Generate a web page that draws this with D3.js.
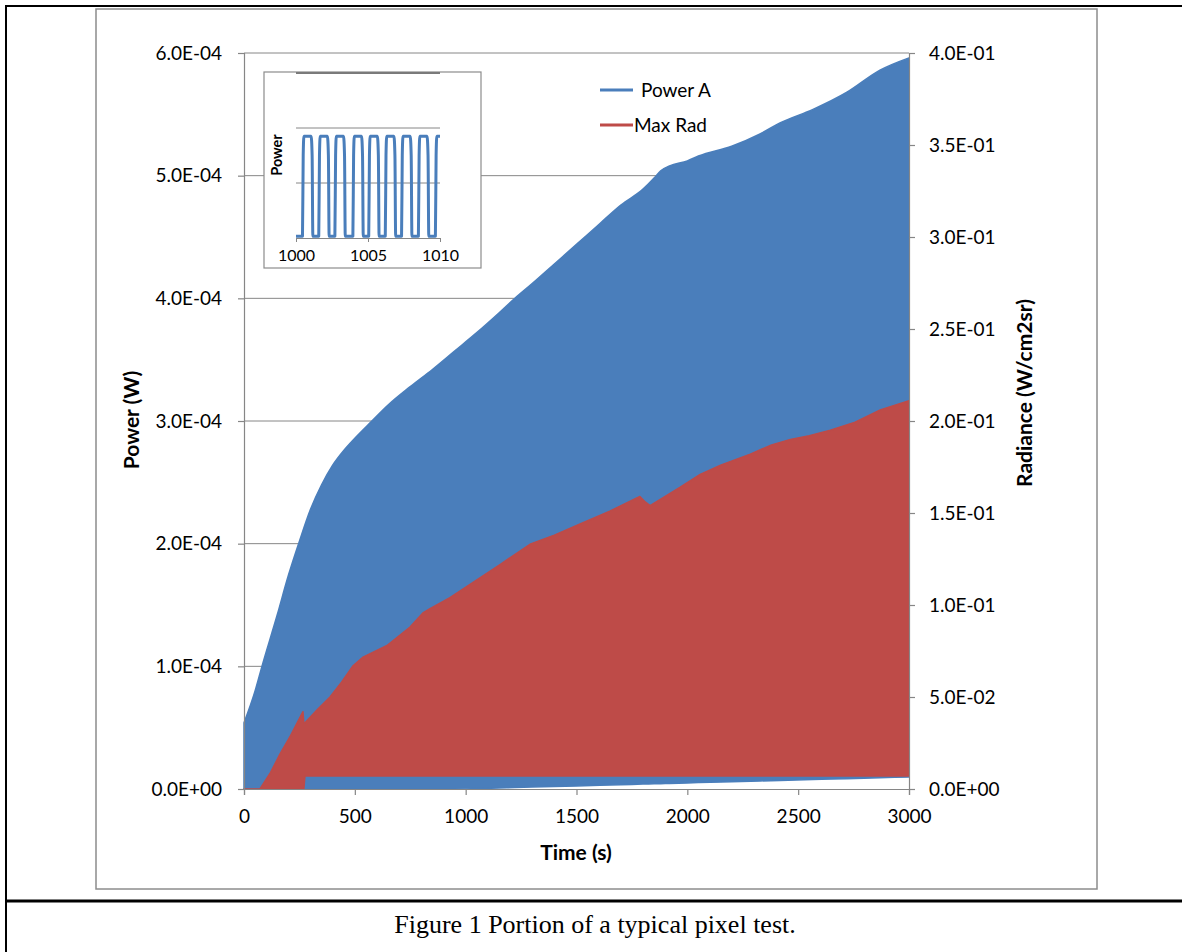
<!DOCTYPE html>
<html>
<head>
<meta charset="utf-8">
<script src="https://cdn.jsdelivr.net/npm/d3@7"></script>
<style>
  html, body { margin: 0; padding: 0; background: #fff; }
  svg { display: block; }
</style>
</head>
<body>
<svg id="fig" width="1182" height="952"></svg>
<script>
// Power A envelope (top / bottom of the dense oscillation), W
const powerTime = [0, 50, 81, 150, 200, 250, 300, 350, 400, 450, 500, 577, 650, 750, 850, 950, 1050, 1150, 1222, 1300, 1400, 1500, 1606, 1700, 1800, 1850, 1880, 1920, 2000, 2050, 2200, 2328, 2418, 2567, 2720, 2869, 3000];
const powerTop = [0.54e-4, 0.80e-4, 1.00e-4, 1.42e-4, 1.74e-4, 2.02e-4, 2.28e-4, 2.48e-4, 2.64e-4, 2.76e-4, 2.86e-4, 3.00e-4, 3.13e-4, 3.28e-4, 3.42e-4, 3.57e-4, 3.72e-4, 3.88e-4, 4.00e-4, 4.12e-4, 4.28e-4, 4.44e-4, 4.61e-4, 4.76e-4, 4.89e-4, 4.98e-4, 5.04e-4, 5.08e-4, 5.12e-4, 5.16e-4, 5.24e-4, 5.34e-4, 5.43e-4, 5.54e-4, 5.68e-4, 5.86e-4, 5.96e-4];
const powerLowTime = [0, 975, 3000];
const powerLow = [0, 0, 0.098e-4];

// Max Rad envelope, W/cm2sr
const radTime = [0, 72, 120, 162, 210, 266, 270, 275, 330, 388, 440, 492, 537, 645, 749, 807, 839, 929, 1042, 1155, 1290, 1400, 1516, 1650, 1786, 1810, 1832, 1900, 1968, 2058, 2150, 2284, 2380, 2465, 2550, 2645, 2750, 2870, 3000];
const radTop = [0, 0, 0.009, 0.019, 0.029, 0.042, 0.036, 0.036, 0.043, 0.050, 0.058, 0.067, 0.0717, 0.078, 0.088, 0.0957, 0.098, 0.104, 0.113, 0.122, 0.133, 0.138, 0.144, 0.151, 0.159, 0.156, 0.154, 0.159, 0.164, 0.171, 0.176, 0.182, 0.187, 0.190, 0.192, 0.195, 0.199, 0.206, 0.211];
const radLowTime = [0, 272, 275, 3000];
const radLow = [0, 0, 0.0071, 0.0071];

const xTicks = [0, 500, 1000, 1500, 2000, 2500, 3000];
const powerTicks = [0, 1e-4, 2e-4, 3e-4, 4e-4, 5e-4, 6e-4];
const radTicks = [0, 0.05, 0.1, 0.15, 0.2, 0.25, 0.3, 0.35, 0.4];

// inset: 10 s of Power A (arbitrary units)
const insetTime = [1000,
    1000.45, 1000.50, 1000.55, 1001.05, 1001.12, 1001.17,
    1001.58, 1001.63, 1001.68, 1002.18, 1002.25, 1002.30,
    1002.70, 1002.75, 1002.80, 1003.30, 1003.37, 1003.42,
    1003.95, 1004.00, 1004.05, 1004.55, 1004.62, 1004.67,
    1005.05, 1005.10, 1005.15, 1005.65, 1005.72, 1005.77,
    1006.20, 1006.25, 1006.30, 1006.80, 1006.87, 1006.92,
    1007.33, 1007.38, 1007.43, 1007.93, 1008.00, 1008.05,
    1008.50, 1008.55, 1008.60, 1009.10, 1009.17, 1009.22,
    1009.68, 1009.73, 1009.78, 1010];
const insetPower = [0.03,
    0.03, 1.5, 1.85, 1.85, 1.5, 0.03,
    0.03, 1.5, 1.85, 1.85, 1.5, 0.03,
    0.03, 1.5, 1.85, 1.85, 1.5, 0.03,
    0.03, 1.5, 1.85, 1.85, 1.5, 0.03,
    0.03, 1.5, 1.85, 1.85, 1.5, 0.03,
    0.03, 1.5, 1.85, 1.85, 1.5, 0.03,
    0.03, 1.5, 1.85, 1.85, 1.5, 0.03,
    0.03, 1.5, 1.85, 1.85, 1.5, 0.03,
    0.03, 1.5, 1.85, 1.85];
const insetTicks = [1000, 1005, 1010];
const insetGrid = [1, 2, 3];

const blue = '#4a7ebb';
const red = '#be4b48';
const axisGray = '#868686';
const font = 'Lato, "Open Sans", sans-serif';

function sci(v) {
    const [m, e] = v.toExponential(1).split('e');
    const n = Math.abs(+e);
    return m + 'E' + (e[0] === '-' ? '-' : '+') + (n < 10 ? '0' + n : n);
}

const svg = d3.select('#fig');

// page / table frame
svg.append('rect').attr('x', 96).attr('y', 9).attr('width', 1001).attr('height', 880)
    .attr('fill', '#fff').attr('stroke', '#8c8c8c').attr('stroke-width', 1.5);
svg.append('line').attr('x1', 5).attr('x2', 1182).attr('y1', 6).attr('y2', 6)
    .attr('stroke', '#000').attr('stroke-width', 2);
svg.append('line').attr('x1', 6).attr('x2', 6).attr('y1', 5).attr('y2', 952)
    .attr('stroke', '#000').attr('stroke-width', 2);
svg.append('line').attr('x1', 5).attr('x2', 1182).attr('y1', 901).attr('y2', 901)
    .attr('stroke', '#000').attr('stroke-width', 3);
svg.append('text').attr('x', 595).attr('y', 933).attr('text-anchor', 'middle')
    .style('font-family', '"Liberation Serif", "Times New Roman", serif').style('font-size', '26px')
    .text('Figure 1 Portion of a typical pixel test.');

const x = d3.scaleLinear().domain([0, 3000]).range([244, 909]);
const yP = d3.scaleLinear().domain([0, 6e-4]).range([789, 53]);
const yR = d3.scaleLinear().domain([0, 0.4]).range([789, 53]);

// gridlines
svg.append('g').selectAll('line').data(powerTicks.slice(1)).enter().append('line')
    .attr('x1', 244).attr('x2', 909)
    .attr('y1', d => yP(d)).attr('y2', d => yP(d))
    .attr('stroke', axisGray).attr('stroke-width', 1);

// series
const lowP = d3.scaleLinear().domain(powerLowTime).range(powerLow);
const lowR = d3.scaleLinear().domain(radLowTime).range(radLow);

const powerArea = d3.area()
    .x((d, i) => x(powerTime[i]))
    .y0((d, i) => yP(lowP(powerTime[i])))
    .y1((d, i) => yP(powerTop[i]))
    .curve(d3.curveMonotoneX);
svg.append('path').attr('d', powerArea(powerTime))
    .attr('fill', blue).attr('stroke', blue).attr('stroke-width', 1.5).attr('stroke-linejoin', 'round');

const radArea = d3.area()
    .x((d, i) => x(radTime[i]))
    .y0((d, i) => yR(lowR(radTime[i])))
    .y1((d, i) => yR(radTop[i]));
svg.append('path').attr('d', radArea(radTime))
    .attr('fill', red).attr('stroke', red).attr('stroke-width', 1.5).attr('stroke-linejoin', 'round');

// axes
function styleAxis(g) {
    g.selectAll('.domain').attr('stroke', axisGray).attr('stroke-width', 1.2);
    g.selectAll('.tick line').attr('stroke', axisGray).attr('stroke-width', 1.2);
    g.selectAll('.tick text').attr('fill', '#000').style('font-family', font).style('font-size', '19px');
}

svg.append('g').attr('transform', 'translate(0,789)')
    .call(d3.axisBottom(x).tickValues(xTicks).tickFormat(d3.format('d')).tickSizeOuter(0).tickSize(6).tickPadding(15))
    .call(styleAxis);
svg.append('g').attr('transform', 'translate(244,0)')
    .call(d3.axisLeft(yP).tickValues(powerTicks).tickFormat(sci).tickSizeOuter(0).tickSize(6).tickPadding(16))
    .call(styleAxis);
svg.append('g').attr('transform', 'translate(909,0)')
    .call(d3.axisRight(yR).tickValues(radTicks).tickFormat(sci).tickSizeOuter(0).tickSize(6).tickPadding(14))
    .call(styleAxis);

// axis titles
svg.append('text').attr('x', 576).attr('y', 860).attr('text-anchor', 'middle')
    .style('font-family', font).style('font-weight', 'bold').style('font-size', '21px').text('Time (s)');
svg.append('text').attr('transform', 'translate(139,420) rotate(-90)').attr('text-anchor', 'middle')
    .style('font-family', font).style('font-weight', 'bold').style('font-size', '21px').text('Power (W)');
svg.append('text').attr('transform', 'translate(1032,393) rotate(-90)').attr('text-anchor', 'middle')
    .style('font-family', font).style('font-weight', 'bold').style('font-size', '21px').text('Radiance (W/cm2sr)');

// legend
const legend = [
    { name: 'Power A', color: blue, y: 90, tx: 641 },
    { name: 'Max Rad', color: red, y: 125, tx: 634 }
];
const lg = svg.append('g').selectAll('g').data(legend).enter().append('g');
lg.append('line').attr('x1', 600).attr('x2', 633).attr('y1', d => d.y).attr('y2', d => d.y)
    .attr('stroke', d => d.color).attr('stroke-width', 3);
lg.append('text').attr('x', d => d.tx).attr('y', d => d.y).attr('dy', '0.35em')
    .style('font-family', font).style('font-size', '19px').text(d => d.name);

// inset
const inset = svg.append('g');
inset.append('rect').attr('x', 264).attr('y', 72).attr('width', 217).attr('height', 196)
    .attr('fill', '#fff').attr('stroke', '#8c8c8c').attr('stroke-width', 1.2);

const ix = d3.scaleLinear().domain([1000, 1010]).range([296, 440]);
const iy = d3.scaleLinear().domain([0, 3]).range([238, 73]);

inset.selectAll('line.grid').data(insetGrid).enter().append('line')
    .attr('x1', 296).attr('x2', 440)
    .attr('y1', d => iy(d)).attr('y2', d => iy(d))
    .attr('stroke', d => d === 3 ? '#7a7a7a' : axisGray).attr('stroke-width', d => d === 3 ? 2 : 1);

const ig = inset.append('g').attr('transform', 'translate(0,238)')
    .call(d3.axisBottom(ix).tickValues(insetTicks).tickFormat(d3.format('d')).tickSizeOuter(0).tickSize(4).tickPadding(8));
ig.selectAll('.domain').attr('stroke', axisGray);
ig.selectAll('.tick line').attr('stroke', axisGray);
ig.selectAll('.tick text').attr('fill', '#000').style('font-family', font).style('font-size', '16px');

inset.append('path')
    .attr('d', d3.line().x((d, i) => ix(insetTime[i])).y((d, i) => iy(insetPower[i])).curve(d3.curveMonotoneX)(insetTime))
    .attr('fill', 'none').attr('stroke', blue).attr('stroke-width', 3).attr('stroke-linejoin', 'round');

inset.append('text').attr('transform', 'translate(282,155) rotate(-90)').attr('text-anchor', 'middle')
    .style('font-family', font).style('font-weight', 'bold').style('font-size', '14.5px').text('Power');
</script>
</body>
</html>
